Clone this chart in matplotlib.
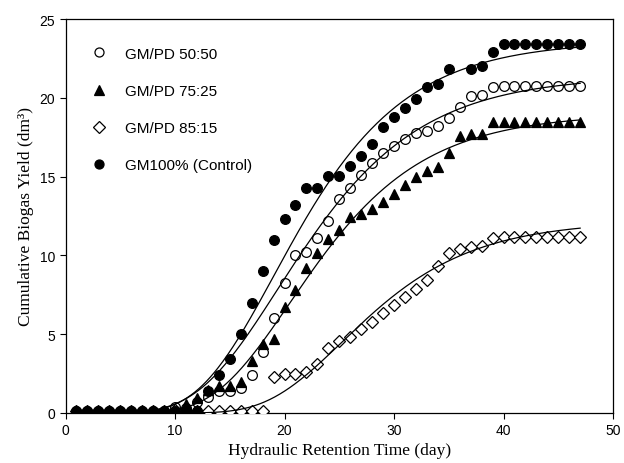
import numpy as np
import matplotlib
matplotlib.use("Agg")
import matplotlib.pyplot as plt
from matplotlib.lines import Line2D

# ---------------- data ----------------
days = np.arange(1, 48)

gm_pd_50_50 = [0.1, 0.1, 0.1, 0.1, 0.1, 0.1, 0.1, 0.1, 0.1, 0.35,
               0.3, 0.7, 1.0, 1.4, 1.4, 1.6, 2.4, 3.85, 6.05, 8.24,
               10.0, 10.2, 11.1, 12.2, 13.6, 14.3, 15.1, 15.85, 16.5, 16.95,
               17.4, 17.75, 17.9, 18.2, 18.7, 19.4, 20.1, 20.2, 20.7, 20.75,
               20.75, 20.75, 20.75, 20.75, 20.75, 20.75, 20.75]

gm_pd_75_25 = [0.1, 0.1, 0.1, 0.1, 0.1, 0.1, 0.1, 0.1, 0.1, 0.1,
               0.6, 0.95, 1.45, 1.7, 1.7, 1.95, 3.3, 4.37, 4.72, 6.7,
               7.8, 9.23, 10.14, 11.03, 11.6, 12.46, 12.6, 12.93, 13.4, 13.9,
               14.45, 15.0, 15.35, 15.62, 16.5, 17.55, 17.73, 17.73, 18.45, 18.45,
               18.45, 18.45, 18.45, 18.45, 18.45, 18.45, 18.45]

gm_pd_85_15 = [0.1, 0.1, 0.1, 0.1, 0.1, 0.1, 0.1, 0.1, 0.1, 0.2,
               0.1, 0.1, 0.1, 0.1, 0.1, 0.1, 0.1, 0.1, 2.26, 2.45,
               2.48, 2.6, 3.1, 4.1, 4.6, 4.85, 5.3, 5.8, 6.35, 6.84,
               7.36, 7.88, 8.45, 9.33, 10.18, 10.4, 10.56, 10.6, 11.1, 11.18,
               11.18, 11.18, 11.18, 11.18, 11.18, 11.18, 11.18]

gm_control = [0.1, 0.1, 0.1, 0.1, 0.1, 0.1, 0.1, 0.1, 0.1, 0.1,
              0.1, 0.1, 1.4, 2.4, 3.4, 5.0, 7.0, 9.0, 11.0, 12.3,
              13.2, 14.3, 14.3, 15.05, 15.05, 15.65, 16.3, 17.1, 18.17, 18.8,
              19.35, 19.9, 20.7, 20.85, 21.8, np.nan, 21.8, 22.0, 22.9, 23.4,
              23.4, 23.4, 23.4, 23.4, 23.4, 23.4, 23.4]

labels = ["GM/PD 50:50", "GM/PD 75:25", "GM/PD 85:15", "GM100% (Control)"]

# modified Gompertz model parameters (P [dm3], Rm [dm3/day], lambda [day])
gompertz_params = {
    "GM/PD 50:50": (21.4, 1.079, 12.1),
    "GM/PD 75:25": (19.0, 1.014, 13.6),
    "GM/PD 85:15": (12.2, 0.667, 18.5),
    "GM100% (Control)": (23.6, 1.276, 12.2),
}

x_ticks = [0, 10, 20, 30, 40, 50]
y_ticks = [0, 5, 10, 15, 20, 25]


def gompertz(t, P, Rm, lam):
    return P * np.exp(-np.exp(Rm * np.e / P * (lam - t) + 1.0))


# ---------------- figure ----------------
fig = plt.figure(figsize=(6.24, 4.64), dpi=100)
ax = fig.add_axes([65.5 / 624, 50 / 464, 547.5 / 624, 394 / 464])

styles = {
    "GM/PD 50:50": dict(marker="o", mfc="white", mec="black", ms=7.0),
    "GM/PD 75:25": dict(marker="^", mfc="black", mec="black", ms=7.5),
    "GM/PD 85:15": dict(marker="D", mfc="white", mec="black", ms=6.2),
    "GM100% (Control)": dict(marker="o", mfc="black", mec="black", ms=7.0),
}

series = {
    "GM/PD 50:50": gm_pd_50_50,
    "GM/PD 75:25": gm_pd_75_25,
    "GM/PD 85:15": gm_pd_85_15,
    "GM100% (Control)": gm_control,
}

draw_order = ["GM/PD 50:50", "GM/PD 75:25", "GM/PD 85:15", "GM100% (Control)"]
for i, name in enumerate(draw_order):
    st = styles[name]
    ax.plot(days, series[name], linestyle="none", marker=st["marker"],
            markerfacecolor=st["mfc"], markeredgecolor=st["mec"],
            markersize=st["ms"], markeredgewidth=0.9, zorder=2 + i)

t_fit = np.linspace(1, 47, 400)
for name in draw_order:
    P, Rm, lam = gompertz_params[name]
    ax.plot(t_fit, gompertz(t_fit, P, Rm, lam), color="black", lw=0.9, zorder=10)

ax.set_xlim(0, 50)
ax.set_ylim(0, 25)
ax.set_xticks(x_ticks)
ax.set_yticks(y_ticks)
ax.tick_params(axis="both", direction="out", length=4, width=0.8,
               labelsize=10, top=False, right=False)
for lab in ax.get_xticklabels() + ax.get_yticklabels():
    lab.set_fontfamily("Liberation Sans")
for sp in ax.spines.values():
    sp.set_linewidth(0.9)

ax.set_xlabel("Hydraulic Retention Time (day)", fontfamily="Liberation Serif",
              fontsize=12.5, labelpad=3)
ax.set_ylabel("Cumulative Biogas Yield (dm\u00b3)", fontfamily="Liberation Serif",
              fontsize=12.5, labelpad=4)

handles = []
for name in labels:
    st = styles[name]
    handles.append(Line2D([], [], linestyle="none", marker=st["marker"],
                          markerfacecolor=st["mfc"], markeredgecolor=st["mec"],
                          markersize=st["ms"] - 0.5, markeredgewidth=0.9))
leg = ax.legend(handles, labels, loc="upper left", bbox_to_anchor=(0.036, 0.945),
                frameon=False, prop={"family": "Liberation Sans", "size": 11},
                labelspacing=1.52, handlelength=1.0, handletextpad=1.2,
                borderaxespad=0)

fig.savefig("out.png", dpi=100)
